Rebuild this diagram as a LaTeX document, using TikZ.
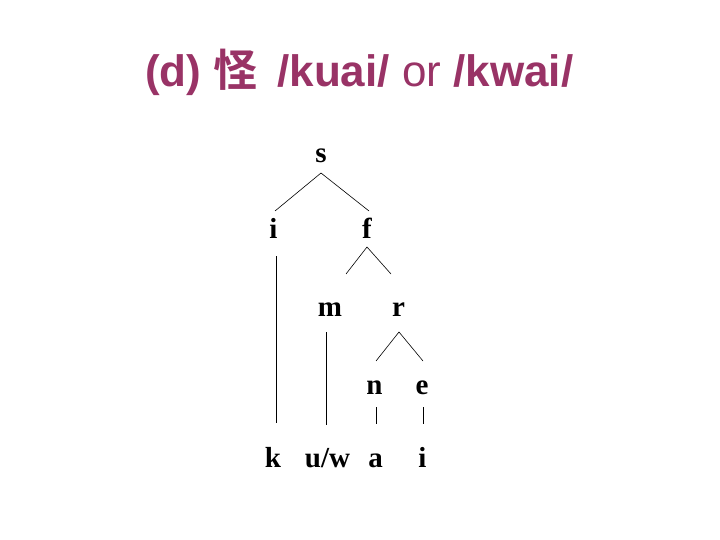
\documentclass[tikz,border=0pt]{standalone}
\usepackage{fontspec}
\setmainfont{Liberation Serif}
\setsansfont{Liberation Sans}
\newfontfamily\cjk{Noto Sans CJK SC}[BoldFont=* Bold]
\definecolor{titlec}{HTML}{993366}
\begin{document}
\begin{tikzpicture}[x=1pt,y=-1pt,
  lab/.style={font=\fontsize{29}{29}\selectfont\bfseries, inner sep=0pt, anchor=base},
  br/.style={line width=0.6pt}]
\useasboundingbox (0,0) rectangle (720,540);
\node[font=\fontsize{44}{44}\selectfont\sffamily, text=titlec, inner sep=0pt, anchor=base west] (title) at (145,87)
  {\textbf{(d)} {\cjk\bfseries 怪}\hspace{0.45em}\textbf{/kuai/} or \textbf{/kwai/}};
\node[lab] (s) at (321,163) {s};
\node[lab] (i) at (273.5,239) {i};
\node[lab] (f) at (367,239) {f};
\node[lab] (m) at (330,316) {m};
\node[lab] (r) at (398.5,316) {r};
\node[lab] (n) at (374.5,394) {n};
\node[lab] (e) at (422,394) {e};
\node[lab] (k) at (273,467) {k};
\node[lab] (uw) at (327.5,467) {u/w};
\node[lab] (a) at (375.5,467) {a};
\node[lab] (i2) at (422.5,467) {i};
\coordinate (sA) at (321,173);
\coordinate (sL) at (275,211);
\coordinate (sR) at (369,211);
\coordinate (fA) at (367,247);
\coordinate (fL) at (346,274);
\coordinate (fR) at (391,274);
\coordinate (rA) at (399,332);
\coordinate (rL) at (376,361);
\coordinate (rR) at (423,361);
\coordinate (iT) at (276,256);
\coordinate (iB) at (276,423);
\coordinate (mT) at (326,332);
\coordinate (mB) at (326,425);
\coordinate (nT) at (376,407);
\coordinate (nB) at (376,424);
\coordinate (eT) at (423,407);
\coordinate (eB) at (423,424);
\draw[br] (sL) -- (sA) -- (sR);
\draw[br] (fL) -- (fA) -- (fR);
\draw[br] (rL) -- (rA) -- (rR);
\draw[br] (iT) -- (iB);
\draw[br] (mT) -- (mB);
\draw[br] (nT) -- (nB);
\draw[br] (eT) -- (eB);
\end{tikzpicture}
\end{document}
